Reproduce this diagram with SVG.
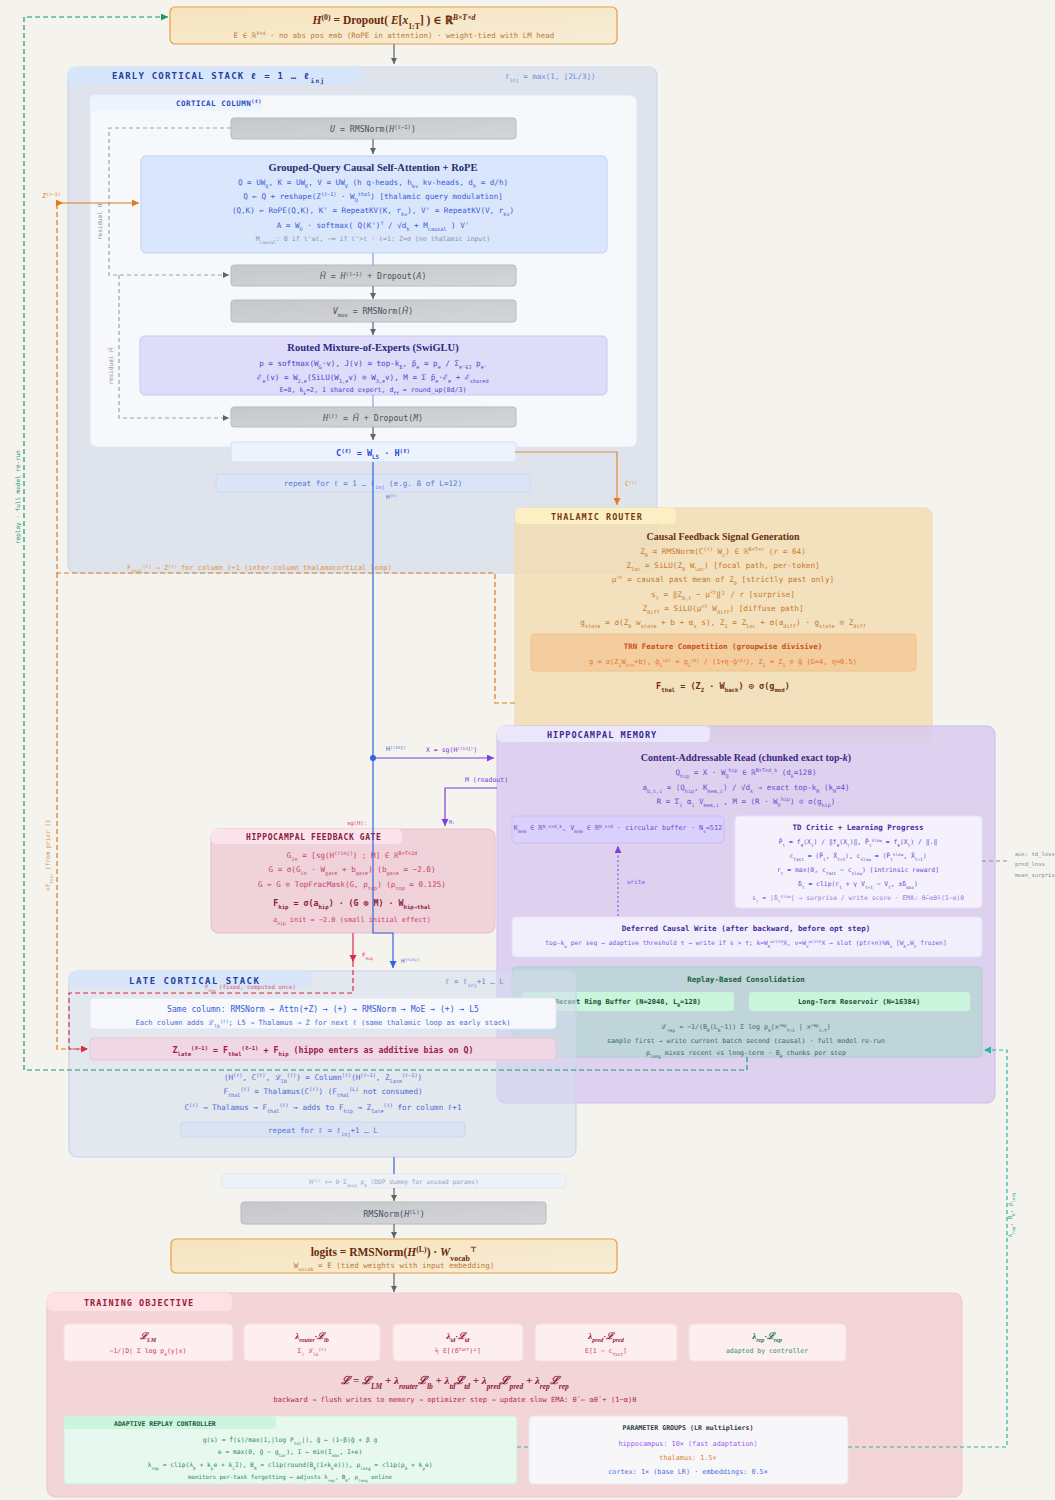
<svg xmlns="http://www.w3.org/2000/svg" width="1055" height="1500" viewBox="0 0 1055 1500">
<defs>
<style>
.m{font-family:"DejaVu Sans Mono","Liberation Mono",monospace}
.sf{font-family:"Liberation Serif","DejaVu Serif",serif;font-weight:bold}
.c{text-anchor:middle}
.bd{font-weight:bold}
.it{font-style:italic}
.hb{font-family:"DejaVu Sans",sans-serif;font-style:italic}
.b{baseline-shift:sub;font-size:68%}
.p{baseline-shift:super;font-size:68%}
.gbox{fill:url(#gg);stroke:#b8bbc0;stroke-width:1}
.gtx{fill:#4a5262;font-size:8.2px}
.ln{fill:none;stroke-width:1.2}
</style>
<linearGradient id="gg" x1="0" y1="0" x2="1" y2="1"><stop offset="0" stop-color="#c6c8cc"/><stop offset="1" stop-color="#d3d5d8"/></linearGradient>
<linearGradient id="go" x1="0" y1="0" x2="1" y2="1"><stop offset="0" stop-color="#f6e4bd"/><stop offset="1" stop-color="#f7ecd6"/></linearGradient>
<marker id="ag" markerWidth="7" markerHeight="7" refX="6" refY="3" orient="auto" markerUnits="userSpaceOnUse"><path d="M0,0 L6,3 L0,6 z" fill="#5b6374"/></marker>
<marker id="ao" markerWidth="8" markerHeight="8" refX="7" refY="3.5" orient="auto" markerUnits="userSpaceOnUse"><path d="M0,0 L7,3.5 L0,7 z" fill="#e07b1a"/></marker>
<marker id="ab" markerWidth="8" markerHeight="8" refX="7" refY="3.5" orient="auto" markerUnits="userSpaceOnUse"><path d="M0,0 L7,3.5 L0,7 z" fill="#2f66e0"/></marker>
<marker id="ap" markerWidth="8" markerHeight="8" refX="7" refY="3.5" orient="auto" markerUnits="userSpaceOnUse"><path d="M0,0 L7,3.5 L0,7 z" fill="#7b3fe0"/></marker>
<marker id="ar" markerWidth="8" markerHeight="8" refX="7" refY="3.5" orient="auto" markerUnits="userSpaceOnUse"><path d="M0,0 L7,3.5 L0,7 z" fill="#e0284a"/></marker>
<marker id="an" markerWidth="8" markerHeight="8" refX="7" refY="3.5" orient="auto" markerUnits="userSpaceOnUse"><path d="M0,0 L7,3.5 L0,7 z" fill="#1a9a6a"/></marker>
<marker id="at" markerWidth="8" markerHeight="8" refX="7" refY="3.5" orient="auto" markerUnits="userSpaceOnUse"><path d="M0,0 L7,3.5 L0,7 z" fill="#27b8a0"/></marker>
</defs>
<rect x="0" y="0" width="1055" height="1500" fill="#f4f3ee"/>

<!-- Early cortical stack -->
<g id="early-stack">
<rect x="68" y="67" width="589" height="506" rx="8" fill="#dfe4ec" stroke="#c9d8f2" stroke-width="1.2"/>
<rect x="68" y="67" width="295" height="17" rx="6" fill="#d7e6fb"/>
<text class="m bd" x="112" y="79" font-size="9" letter-spacing="1.2" fill="#2440a0">EARLY CORTICAL STACK ℓ = 1 … ℓ<tspan class="b">inj</tspan></text>
<text class="m" x="505" y="79" font-size="7.5" fill="#6a8ae0">ℓ<tspan class="b">inj</tspan> = max(1, ⌊2L/3⌋)</text>
</g>
<g id="cortical-column">
<rect x="90" y="95" width="547" height="352" rx="7" fill="#f7f8fb" stroke="#dfe7f5"/>
<rect x="90" y="95" width="172" height="16" rx="5" fill="#eef4fd"/>
<text class="m bd" x="176" y="106" font-size="7.5" letter-spacing="0.5" fill="#2a4ac0">CORTICAL COLUMN<tspan class="p">(ℓ)</tspan></text>
</g>
<g id="u-norm">
<rect class="gbox" x="231" y="118" width="285" height="21" rx="3"/>
<text class="m c gtx" x="373" y="132"><tspan class="it">U</tspan> = RMSNorm(<tspan class="it">H</tspan><tspan class="p">(ℓ−1)</tspan>)</text>
</g>
<g id="attention">
<rect x="141" y="156" width="466" height="97" rx="5" fill="#d9e6fb" stroke="#bed3f6"/>
<text class="sf c" x="373" y="171" font-size="10.5" fill="#1f2f70">Grouped-Query Causal Self-Attention + RoPE</text>
<g class="m c" font-size="7.6" fill="#3a5ad8">
<text x="373" y="185">Q = UW<tspan class="b">Q</tspan>, K = UW<tspan class="b">K</tspan>, V = UW<tspan class="b">V</tspan> (h q-heads, h<tspan class="b">kv</tspan> kv-heads, d<tspan class="b">h</tspan> = d/h)</text>
<text x="373" y="199">Q ← Q + reshape(Z<tspan class="p">(ℓ−1)</tspan> · W<tspan class="b">Q</tspan><tspan class="p">thal</tspan>) [thalamic query modulation]</text>
<text x="373" y="213">(Q,K) ← RoPE(Q,K), K' = RepeatKV(K, r<tspan class="b">kv</tspan>), V' = RepeatKV(V, r<tspan class="b">kv</tspan>)</text>
<text x="373" y="228">A = W<tspan class="b">O</tspan> · softmax( Q(K')<tspan class="p">⊤</tspan> / √d<tspan class="b">h</tspan> + M<tspan class="b">causal</tspan> ) V'</text>
</g>
<text class="m c" x="373" y="241" font-size="6.6" fill="#8a94a8">M<tspan class="b">causal</tspan>: 0 if t'≤t, −∞ if t'&gt;t · ℓ=1: Z=∅ (no thalamic input)</text>
</g>
<g id="h-bar">
<rect class="gbox" x="231" y="265" width="285" height="21" rx="3"/>
<text class="m c gtx" x="373" y="279"><tspan class="hb">H̄</tspan> = <tspan class="it">H</tspan><tspan class="p">(ℓ−1)</tspan> + Dropout(<tspan class="it">A</tspan>)</text>
</g>
<g id="v-moe">
<rect class="gbox" x="231" y="300" width="285" height="22" rx="3"/>
<text class="m c gtx" x="373" y="314"><tspan class="it">V</tspan><tspan class="b">moe</tspan> = RMSNorm(<tspan class="hb">H̄</tspan>)</text>
</g>
<g id="moe">
<rect x="140" y="336" width="467" height="59" rx="5" fill="#dedcf8" stroke="#c8c8f3"/>
<text class="sf c" x="373" y="351" font-size="10.5" fill="#2a2a80">Routed Mixture-of-Experts (SwiGLU)</text>
<g class="m c" font-size="7.6" fill="#4a44d0">
<text x="373" y="366">p = softmax(W<tspan class="b">G</tspan>·v), J(v) = top-k<tspan class="b">E</tspan>, p̃<tspan class="b">e</tspan> = p<tspan class="b">e</tspan> / Σ<tspan class="b">e'∈J</tspan> p<tspan class="b">e'</tspan></text>
<text x="373" y="380">ℰ<tspan class="b">e</tspan>(v) = W<tspan class="b">2,e</tspan>(SiLU(W<tspan class="b">1,e</tspan>v) ⊙ W<tspan class="b">3,e</tspan>v), M = Σ p̃<tspan class="b">e</tspan>·ℰ<tspan class="b">e</tspan> + ℰ<tspan class="b">shared</tspan></text>
<text x="373" y="392" font-size="6.6">E=8, k<tspan class="b">E</tspan>=2, 1 shared expert, d<tspan class="b">ff</tspan> = round_up(8d/3)</text>
</g>
</g>
<g id="h-out">
<rect class="gbox" x="231" y="407" width="285" height="20" rx="3"/>
<text class="m c gtx" x="373" y="421"><tspan class="it">H</tspan><tspan class="p">(ℓ)</tspan> = <tspan class="hb">H̄</tspan> + Dropout(<tspan class="it">M</tspan>)</text>
</g>
<g id="c-l5">
<rect x="231" y="442" width="285" height="20" rx="3" fill="#edf3fd" stroke="#cfe0f8"/>
<text class="m c bd" x="373" y="456" font-size="8.5" fill="#2a4ad8">C<tspan class="p">(ℓ)</tspan> = W<tspan class="b">L5</tspan> · H<tspan class="p">(ℓ)</tspan></text>
</g>
<g id="repeat-early">
<rect x="216" y="474" width="314" height="18" rx="3" fill="#dbe5f5" stroke="#cad9f1"/>
<text class="m c" x="373" y="486" font-size="7.6" fill="#5a78d8">repeat for ℓ = 1 … ℓ<tspan class="b">inj</tspan> (e.g. 8 of L=12)</text>
</g>

<!-- Thalamic router -->
<g id="thalamic-router">
<rect x="515" y="508" width="417" height="234" rx="8" fill="#f2dcb0" fill-opacity="0.8" stroke="#f0d9a8"/>
<rect x="515" y="508" width="161" height="16" rx="5" fill="#fcefc3"/>
<text class="m bd" x="551" y="520" font-size="8.5" letter-spacing="1" fill="#7a3a12">THALAMIC ROUTER</text>
<text class="sf c" x="723" y="539.5" font-size="10" fill="#6a3010">Causal Feedback Signal Generation</text>
<g class="m c" font-size="7.7" fill="#c8782a">
<text x="723" y="554">Z<tspan class="b">0</tspan> = RMSNorm(C<tspan class="p">(ℓ)</tspan> W<tspan class="b">c</tspan>) ∈ ℝ<tspan class="p">B×T×r</tspan> (r = 64)</text>
<text x="723" y="568">Z<tspan class="b">loc</tspan> = SiLU(Z<tspan class="b">0</tspan> W<tspan class="b">loc</tspan>) [focal path, per-token]</text>
<text x="723" y="582">μ<tspan class="p">&lt;t</tspan> = causal past mean of Z<tspan class="b">0</tspan> [strictly past only]</text>
<text x="723" y="597">s<tspan class="b">t</tspan> = ‖Z<tspan class="b">0,t</tspan> − μ<tspan class="p">&lt;t</tspan>‖² / r [surprise]</text>
<text x="723" y="611">Z<tspan class="b">diff</tspan> = SiLU(μ<tspan class="p">&lt;t</tspan> W<tspan class="b">diff</tspan>) [diffuse path]</text>
<text x="723" y="625">g<tspan class="b">state</tspan> = σ(Z<tspan class="b">0</tspan> w<tspan class="b">state</tspan> + b + α<tspan class="b">s</tspan> s), Z<tspan class="b">1</tspan> = Z<tspan class="b">loc</tspan> + σ(a<tspan class="b">diff</tspan>) · g<tspan class="b">state</tspan> ⊙ Z<tspan class="b">diff</tspan></text>
</g>
<rect x="531" y="634" width="385" height="37" rx="4" fill="#f4c594" fill-opacity="0.75" stroke="#f0c08c"/>
<text class="m c bd" x="723" y="649" font-size="7.5" fill="#c8501a">TRN Feature Competition (groupwise divisive)</text>
<text class="m c" x="723" y="664" font-size="7" fill="#e8702a">g = σ(Z<tspan class="b">1</tspan>W<tspan class="b">trn</tspan>+b), ĝ<tspan class="b">1</tspan><tspan class="p">(m)</tspan> = g<tspan class="b">1</tspan><tspan class="p">(m)</tspan> / (1+η·ḡ<tspan class="p">(m)</tspan>), Z<tspan class="b">2</tspan> = Z<tspan class="b">1</tspan> ⊙ ĝ (G=4, η=0.5)</text>
<text class="m c bd" x="723" y="689" font-size="8.5" fill="#6a3010">F<tspan class="b">thal</tspan> = (Z<tspan class="b">2</tspan> · W<tspan class="b">back</tspan>) ⊙ σ(g<tspan class="b">mod</tspan>)</text>
</g>

<!-- Hippocampal memory -->
<g id="hippocampal-memory">
<rect x="497" y="726" width="498" height="377" rx="8" fill="#d8caee" fill-opacity="0.85" stroke="#cdbdf0"/>
<rect x="497" y="726" width="213" height="16" rx="5" fill="#ece6fc"/>
<text class="m bd" x="547" y="738" font-size="8.5" letter-spacing="1" fill="#3a2a90">HIPPOCAMPAL MEMORY</text>
<text class="sf c" x="746" y="760.5" font-size="10" fill="#3a2a80">Content-Addressable Read (chunked exact top-<tspan class="it">k</tspan>)</text>
<g class="m c" font-size="7.5" fill="#6a4ad0">
<text x="746" y="775">Q<tspan class="b">hip</tspan> = X · W<tspan class="b">Q</tspan><tspan class="p">hip</tspan> ∈ ℝ<tspan class="p">B×T×d_k</tspan> (d<tspan class="b">k</tspan>=128)</text>
<text x="746" y="790">a<tspan class="b">b,t,i</tspan> = ⟨Q<tspan class="b">hip</tspan>, K<tspan class="b">mem,i</tspan>⟩ / √d<tspan class="b">k</tspan> → exact top-k<tspan class="b">H</tspan> (k<tspan class="b">H</tspan>=4)</text>
<text x="746" y="804">R = Σ<tspan class="b">i</tspan> α<tspan class="b">i</tspan> V<tspan class="b">mem,i</tspan> , M = (R · W<tspan class="b">O</tspan><tspan class="p">hip</tspan>) ⊙ σ(g<tspan class="b">hip</tspan>)</text>
</g>
</g>
<g id="memory-buffer">
<rect x="512" y="816" width="212" height="27" rx="4" fill="#d9d0fb" stroke="#c9bdf6"/>
<text class="m c" x="618" y="830" font-size="6.8" fill="#6a4ad0">K<tspan class="b">mem</tspan> ∈ ℝ<tspan class="p">N_s×d_k</tspan>, V<tspan class="b">mem</tspan> ∈ ℝ<tspan class="p">N_s×d</tspan> · circular buffer · N<tspan class="b">s</tspan>=512</text>
</g>
<g id="td-critic">
<rect x="735" y="816" width="247" height="92" rx="4" fill="#f4f1fc" stroke="#e6e0f8"/>
<text class="m c bd" x="858" y="830" font-size="7.5" fill="#4a2aa0">TD Critic + Learning Progress</text>
<g class="m c" font-size="6.4" fill="#6a4ad0">
<text x="858" y="844">P̂<tspan class="b">t</tspan> = f<tspan class="b">θ</tspan>(X<tspan class="b">t</tspan>) / ‖f<tspan class="b">θ</tspan>(X<tspan class="b">t</tspan>)‖, P̂<tspan class="b">t</tspan><tspan class="p">slow</tspan> = f<tspan class="b">θ̄</tspan>(X<tspan class="b">t</tspan>) / ‖.‖</text>
<text x="858" y="858">c<tspan class="b">fast</tspan> = ⟨P̂<tspan class="b">t</tspan>, X̂<tspan class="b">t+1</tspan>⟩, c<tspan class="b">slow</tspan> = ⟨P̂<tspan class="b">t</tspan><tspan class="p">slow</tspan>, X̂<tspan class="b">t+1</tspan>⟩</text>
<text x="858" y="872">r<tspan class="b">t</tspan> = max(0, c<tspan class="b">fast</tspan> − c<tspan class="b">slow</tspan>) [intrinsic reward]</text>
<text x="858" y="886">δ<tspan class="b">t</tspan> = clip(r<tspan class="b">t</tspan> + γ V<tspan class="b">t+1</tspan> − V<tspan class="b">t</tspan>, ±δ<tspan class="b">max</tspan>)</text>
<text x="858" y="900" fill="#9a7ae0">s<tspan class="b">t</tspan> = |δ<tspan class="b">t</tspan><tspan class="p">slow</tspan>| → surprise / write score · EMA: θ̄←αθ̄+(1−α)θ</text>
</g>
</g>
<g id="deferred-write">
<rect x="512" y="917" width="470" height="40" rx="4" fill="#f2effc" stroke="#e4def8"/>
<text class="m c bd" x="746" y="931" font-size="7.5" fill="#4a2aa0">Deferred Causal Write (after backward, before opt step)</text>
<text class="m c" x="746" y="945" font-size="6.3" fill="#7a5ae0">top-k<tspan class="b">w</tspan> per seq → adaptive threshold τ → write if s &gt; τ; k=W<tspan class="b">K</tspan><tspan class="p">write</tspan>X, v=W<tspan class="b">V</tspan><tspan class="p">write</tspan>X → slot (ptr+n)%N<tspan class="b">s</tspan> [W<tspan class="b">K</tspan>,W<tspan class="b">V</tspan> frozen]</text>
</g>
<g id="replay">
<rect x="512" y="967" width="470" height="90" rx="4" fill="#bfd5da" stroke="#b3cdd2"/>
<text class="m c bd" x="746" y="982" font-size="7.5" fill="#1a6040">Replay-Based Consolidation</text>
<rect x="522" y="992" width="212" height="19" rx="3" fill="#c9f5dc"/>
<text class="m c bd" x="628" y="1004" font-size="7" fill="#1a5030">Recent Ring Buffer (N=2048, L<tspan class="b">R</tspan>=128)</text>
<rect x="749" y="992" width="221" height="19" rx="3" fill="#c9f5dc"/>
<text class="m c bd" x="859" y="1004" font-size="7" fill="#1a5030">Long-Term Reservoir (N=16384)</text>
<g class="m c" font-size="6.6" fill="#3a6a5a">
<text x="746" y="1029">ℒ<tspan class="b">rep</tspan> = −1/(B<tspan class="b">R</tspan>(L<tspan class="b">R</tspan>−1)) Σ log p<tspan class="b">θ</tspan>(x<tspan class="p">rep</tspan><tspan class="b">t+1</tspan> | x<tspan class="p">rep</tspan><tspan class="b">1:t</tspan>)</text>
<text x="746" y="1043">sample first → write current batch second (causal) · full model re-run</text>
<text x="746" y="1055">ρ<tspan class="b">long</tspan> mixes recent vs long-term · B<tspan class="b">R</tspan> chunks per step</text>
</g>
</g>

<!-- Hippocampal feedback gate -->
<g id="feedback-gate">
<rect x="211" y="829" width="284" height="104" rx="7" fill="#f0d2da" stroke="#ebbccb"/>
<rect x="211" y="829" width="191" height="15" rx="5" fill="#fbe3eb"/>
<text class="m bd" x="246" y="840" font-size="8" letter-spacing="0.6" fill="#8a1a40">HIPPOCAMPAL FEEDBACK GATE</text>
<g class="m c" font-size="7.6" fill="#c8406a">
<text x="352" y="858">G<tspan class="b">in</tspan> = [sg(H<tspan class="p">(ℓinj)</tspan>) ; M] ∈ ℝ<tspan class="p">B×T×2d</tspan></text>
<text x="352" y="872">G = σ(G<tspan class="b">in</tspan> · W<tspan class="b">gate</tspan> + b<tspan class="b">gate</tspan>) (b<tspan class="b">gate</tspan> = −2.0)</text>
<text x="352" y="887">G ← G ⊙ TopFracMask(G, ρ<tspan class="b">top</tspan>) (ρ<tspan class="b">top</tspan> = 0.125)</text>
</g>
<text class="m c bd" x="352" y="906" font-size="8.3" fill="#8a1a40">F<tspan class="b">hip</tspan> = σ(a<tspan class="b">hip</tspan>) · (G ⊗ M) · W<tspan class="b">hip→thal</tspan></text>
<text class="m c" x="352" y="922" font-size="6.9" fill="#c8406a">a<tspan class="b">hip</tspan> init = −2.0 (small initial effect)</text>
</g>

<!-- Late cortical stack -->
<g id="late-stack">
<rect x="69" y="971" width="507" height="186" rx="8" fill="#d5ddee" fill-opacity="0.55" stroke="#c3d5f5" stroke-width="1.2"/>
<rect x="69" y="971" width="243" height="17" rx="6" fill="#d7e6fb" fill-opacity="0.9"/>
<text class="m bd" x="129" y="984" font-size="9" letter-spacing="1.5" fill="#2440a0">LATE CORTICAL STACK</text>
<text class="m" x="445" y="984" font-size="7.5" fill="#6a8ae0">ℓ = ℓ<tspan class="b">inj</tspan>+1 … L</text>
<g class="m c" font-size="7.6" fill="#4a6ad8">
<text x="323" y="1080">(H<tspan class="p">(ℓ)</tspan>, C<tspan class="p">(ℓ)</tspan>, ℒ<tspan class="b">lb</tspan><tspan class="p">(ℓ)</tspan>) = Column<tspan class="p">(ℓ)</tspan>(H<tspan class="p">(ℓ−1)</tspan>, Z<tspan class="b">late</tspan><tspan class="p">(ℓ−1)</tspan>)</text>
<text x="323" y="1094">F<tspan class="b">thal</tspan><tspan class="p">(ℓ)</tspan> = Thalamus(C<tspan class="p">(ℓ)</tspan>) (F<tspan class="b">thal</tspan><tspan class="p">(L)</tspan> not consumed)</text>
<text x="323" y="1110">C<tspan class="p">(ℓ)</tspan> → Thalamus → F<tspan class="b">thal</tspan><tspan class="p">(ℓ)</tspan> → adds to F<tspan class="b">hip</tspan> → Z<tspan class="b">late</tspan><tspan class="p">(ℓ)</tspan> for column ℓ+1</text>
</g>
</g>
<g id="same-column">
<rect x="90" y="998" width="466" height="31" rx="4" fill="#f7f8fb" stroke="#e0e7f4"/>
<text class="m c" x="323" y="1012" font-size="8.1" fill="#3a5ad8">Same column: RMSNorm → Attn(+Z) → (+) → RMSNorm → MoE → (+) → L5</text>
<text class="m c" x="323" y="1025" font-size="7.1" fill="#4a6ad8">Each column adds ℒ<tspan class="b">lb</tspan><tspan class="p">(ℓ)</tspan>; L5 → Thalamus → Z for next ℓ (same thalamic loop as early stack)</text>
</g>
<g id="z-late">
<rect x="90" y="1038" width="466" height="22" rx="4" fill="#efd8e4" stroke="#ebc3d5"/>
<text class="m c bd" x="323" y="1053" font-size="8.3" fill="#a01a4a">Z<tspan class="b">late</tspan><tspan class="p">(ℓ−1)</tspan> = F<tspan class="b">thal</tspan><tspan class="p">(ℓ−1)</tspan> + F<tspan class="b">hip</tspan> (hippo enters as additive bias on Q)</text>
</g>
<g id="repeat-late">
<rect x="181" y="1122" width="284" height="15" rx="3" fill="#d9e3f4" stroke="#c9d8f1"/>
<text class="m c" x="323" y="1133" font-size="7.6" fill="#5a78d8">repeat for ℓ = ℓ<tspan class="b">inj</tspan>+1 … L</text>
</g>

<!-- Output path -->
<g id="embed">
<rect x="170" y="7" width="447" height="37" rx="5" fill="url(#go)" stroke="#e8a040" stroke-width="1.2"/>
<text class="sf c" x="394" y="24" font-size="11.5" fill="#6a2a0c"><tspan class="it">H</tspan><tspan class="p">(0)</tspan> = Dropout( <tspan class="it">E</tspan>[<tspan class="it">x</tspan><tspan class="b">1:T</tspan>] ) ∈ ℝ<tspan class="p it">B×T×d</tspan></text>
<text class="m c" x="394" y="38" font-size="7.5" fill="#c07a35">E ∈ ℝ<tspan class="p">V×d</tspan> · no abs pos emb (RoPE in attention) · weight-tied with LM head</text>
</g>
<g id="ddp">
<rect x="222" y="1174" width="344" height="14" rx="3" fill="#eef2f8" stroke="#e2e8f2"/>
<text class="m c" x="394" y="1184" font-size="6.2" fill="#9aa4b8">H<tspan class="p">(L)</tspan> += 0·Σ<tspan class="b">dead</tspan> p<tspan class="b">0</tspan> (DDP dummy for unused params)</text>
</g>
<g id="final-norm">
<rect class="gbox" x="241" y="1202" width="305" height="22" rx="3"/>
<text class="m c" x="394" y="1216.5" font-size="8.5" fill="#4a5262">RMSNorm(<tspan class="it">H</tspan><tspan class="p">(L)</tspan>)</text>
</g>
<g id="logits">
<rect x="171" y="1239" width="446" height="34" rx="5" fill="url(#go)" stroke="#e8a040" stroke-width="1.2"/>
<text class="sf c" x="394" y="1256" font-size="11.5" fill="#6a2a0c">logits = RMSNorm(<tspan class="it">H</tspan><tspan class="p">(L)</tspan>) · <tspan class="it">W</tspan><tspan class="b">vocab</tspan><tspan class="p">⊤</tspan></text>
<text class="m c" x="394" y="1268" font-size="7.5" fill="#c07a35">W<tspan class="b">vocab</tspan> = E (tied weights with input embedding)</text>
</g>

<!-- Training objective -->
<g id="training-objective">
<rect x="47" y="1293" width="915" height="204" rx="8" fill="#f3d5d7" stroke="#f0c6cb"/>
<rect x="47" y="1293" width="185" height="18" rx="6" fill="#fde1e4"/>
<text class="m bd" x="84" y="1306" font-size="8.5" letter-spacing="1" fill="#9a1a3a">TRAINING OBJECTIVE</text>
<g fill="#fdeef0" stroke="#f7dde1">
<rect x="64" y="1324" width="169" height="37" rx="4"/>
<rect x="244" y="1324" width="136" height="37" rx="4"/>
<rect x="393" y="1324" width="130" height="37" rx="4"/>
<rect x="535" y="1324" width="142" height="37" rx="4"/>
<rect x="689" y="1324" width="157" height="37" rx="4"/>
</g>
<g class="sf c it" font-size="9" fill="#9a1a3a" font-weight="normal">
<text x="148" y="1339">ℒ<tspan class="b">LM</tspan></text>
<text x="312" y="1339">λ<tspan class="b">router</tspan>·ℒ<tspan class="b">lb</tspan></text>
<text x="458" y="1339">λ<tspan class="b">td</tspan>·ℒ<tspan class="b">td</tspan></text>
<text x="606" y="1339">λ<tspan class="b">pred</tspan>·ℒ<tspan class="b">pred</tspan></text>
<text x="767" y="1339" fill="#1a7a50">λ<tspan class="b">rep</tspan>·ℒ<tspan class="b">rep</tspan></text>
</g>
<g class="m c" font-size="6.5" fill="#c8406a">
<text x="148" y="1353">−1/|D| Σ log p<tspan class="b">θ</tspan>(y|x)</text>
<text x="312" y="1353">Σ<tspan class="b">ℓ</tspan> ℒ<tspan class="b">lb</tspan><tspan class="p">(ℓ)</tspan></text>
<text x="458" y="1353">½ E[(δ<tspan class="p">fast</tspan>)²]</text>
<text x="606" y="1353">E[1 − c<tspan class="b">fast</tspan>]</text>
<text x="767" y="1353" fill="#2a9a6a">adapted by controller</text>
</g>
<text class="sf c it" x="455" y="1384" font-size="11" fill="#8a1a3a" font-weight="normal">ℒ = ℒ<tspan class="b">LM</tspan> + λ<tspan class="b">router</tspan>ℒ<tspan class="b">lb</tspan> + λ<tspan class="b">td</tspan>ℒ<tspan class="b">td</tspan> + λ<tspan class="b">pred</tspan>ℒ<tspan class="b">pred</tspan> + λ<tspan class="b">rep</tspan>ℒ<tspan class="b">rep</tspan></text>
<text class="m c" x="455" y="1402" font-size="7.1" fill="#b0284a">backward → flush writes to memory → optimizer step → update slow EMA: θ̄ ← αθ̄ + (1−α)θ</text>
</g>
<g id="replay-controller">
<rect x="64" y="1416" width="453" height="68" rx="4" fill="#e7f9ef" stroke="#cfeedd"/>
<rect x="64" y="1416" width="212" height="13" rx="4" fill="#cdf5de"/>
<text class="m bd" x="114" y="1426" font-size="6.5" fill="#1a5a3a">ADAPTIVE REPLAY CONTROLLER</text>
<g class="m c" font-size="6.3" fill="#2a8a5a">
<text x="290" y="1442">g(s) = f̂(s)/max(1,|log P<tspan class="b">tot</tspan>|), ĝ ← (1−β)ĝ + β g</text>
<text x="290" y="1454">e = max(0, ĝ − g<tspan class="b">tar</tspan>), I ← min(I<tspan class="b">max</tspan>, I+e)</text>
<text x="290" y="1467">λ<tspan class="b">rep</tspan> = clip(λ<tspan class="b">0</tspan> + k<tspan class="b">p</tspan>e + k<tspan class="b">i</tspan>I), B<tspan class="b">R</tspan> = clip(round(B<tspan class="b">0</tspan>(1+k<tspan class="b">b</tspan>e))), ρ<tspan class="b">long</tspan> = clip(ρ<tspan class="b">0</tspan> + k<tspan class="b">ρ</tspan>e)</text>
<text x="290" y="1479" font-size="5.8">monitors per-task forgetting → adjusts λ<tspan class="b">rep</tspan>, B<tspan class="b">R</tspan>, ρ<tspan class="b">long</tspan> online</text>
</g>
</g>
<g id="param-groups">
<rect x="529" y="1416" width="319" height="68" rx="4" fill="#f7f7fa" stroke="#e6e6ee"/>
<text class="m c bd" x="688" y="1430" font-size="6.6" fill="#333a44">PARAMETER GROUPS (LR multipliers)</text>
<g class="m c" font-size="6.8">
<text x="688" y="1446" fill="#9a5af0">hippocampus: 10× (fast adaptation)</text>
<text x="688" y="1460" fill="#e0802a">thalamus: 1.5×</text>
<text x="688" y="1474" fill="#4a6ae0">cortex: 1× (base LR) · embeddings: 0.5×</text>
</g>
</g>

<!-- Connectors -->
<g id="connectors">
<g class="ln" stroke="#5b6374">
<path d="M394,44 V64" marker-end="url(#ag)"/>
<path d="M373,139 V154" marker-end="url(#ag)"/>
<path d="M373,286 V299" marker-end="url(#ag)"/>
<path d="M373,322 V335" marker-end="url(#ag)"/>
<path d="M373,427 V440" marker-end="url(#ag)"/>
<path d="M394,1188 V1201" marker-end="url(#ag)"/>
<path d="M394,1224 V1238" marker-end="url(#ag)"/>
<path d="M394,1273 V1292" marker-end="url(#ag)"/>
</g>
<g class="ln" stroke="#7fa3ee">
<path d="M373,253 V265"/>
<path d="M373,395 V407"/>
</g>
<g class="ln" stroke="#9aa3b0" stroke-width="1" stroke-dasharray="4 3">
<path d="M231,128 H109 V275 H229" marker-end="url(#ag)"/>
<path d="M119,275 V418 H229" marker-end="url(#ag)"/>
</g>
<text class="m c" transform="rotate(-90 102 222)" x="102" y="222" font-size="6" fill="#8a93a3">residual H</text>
<text class="m c" transform="rotate(-90 113 366)" x="113" y="366" font-size="6" fill="#8a93a3">residual <tspan class="hb">H̄</tspan></text>
<!-- orange -->
<path class="ln" d="M515,452 H617 V505" stroke="#e08a30" stroke-width="1.5" marker-end="url(#ao)"/>
<text class="m" x="625" y="486" font-size="6.5" fill="#e08a30">C<tspan class="p">(ℓ)</tspan></text>
<path class="ln" d="M515,703 H495 V573 H57 V203 H63" stroke="#e07b1a" stroke-dasharray="5 3" marker-end="url(#ao)"/>
<path class="ln" d="M63,203 H139" stroke="#e07b1a" stroke-width="1.5" marker-end="url(#ao)"/>
<text class="m" x="42" y="198" font-size="7" fill="#e07b1a">Z<tspan class="p">(ℓ−1)</tspan></text>
<text class="m" x="127" y="570" font-size="7" fill="#e09040">F<tspan class="b">thal</tspan><tspan class="p">(ℓ)</tspan> → Z<tspan class="p">(ℓ)</tspan> for column ℓ+1 (inter-column thalamocortical loop)</text>
<path class="ln" d="M57,573 V1049 H86" stroke="#e07b1a" stroke-dasharray="5 3"/>
<text class="m c" transform="rotate(-90 50 855)" x="50" y="855" font-size="6" fill="#e09040">+F<tspan class="b">thal</tspan> (from prior ℓ)</text>
<!-- red -->
<path class="ln" d="M353,933 V962" stroke="#e0284a" stroke-width="1.5" marker-end="url(#ar)"/>
<path class="ln" d="M353,962 V993 H69 V1049 H88" stroke="#e0284a" stroke-dasharray="5 3" marker-end="url(#ar)"/>
<text class="m" x="362" y="957" font-size="6" fill="#e0284a">F<tspan class="b">hip</tspan></text>
<text class="m" x="205" y="989" font-size="5.8" fill="#e05070">F<tspan class="b">hip</tspan> (fixed, computed once)</text>
<text class="m" x="347" y="825" font-size="5.5" fill="#d04060">sg(H):</text>
<!-- blue -->
<path class="ln" d="M373,462 V933 H393 V968" stroke="#2f66e0" stroke-width="1.5" marker-end="url(#ab)"/>
<path class="ln" d="M394,1157 V1174" stroke="#2f66e0" stroke-width="1.5"/>
<circle cx="373" cy="758" r="3" fill="#2f66e0"/>
<text class="m" x="386" y="499" font-size="6" fill="#4a6ae0">H<tspan class="p">(ℓ)</tspan></text>
<text class="m" x="386" y="751" font-size="6.5" fill="#4a6ae0">H<tspan class="p">(ℓinj)</tspan></text>
<text class="m" x="401" y="963" font-size="6" fill="#4a6ae0">H<tspan class="p">(ℓinj)</tspan></text>
<!-- purple -->
<path class="ln" d="M373,758 H494" stroke="#7b3fe0" stroke-width="1.5" marker-end="url(#ap)"/>
<text class="m" x="426" y="752" font-size="6.5" fill="#7b3fe0">X = sg(H<tspan class="p">(ℓinj)</tspan>)</text>
<path class="ln" d="M497,788 H445 V826" stroke="#7b3fe0" stroke-width="1.5" marker-end="url(#ap)"/>
<text class="m" x="465" y="782" font-size="6.5" fill="#7b3fe0">M (readout)</text>
<text class="m" x="449" y="824" font-size="5" fill="#7b3fe0">M:</text>
<path class="ln" d="M618,916 V846" stroke="#8a55e8" stroke-dasharray="2 2.5" marker-end="url(#ap)"/>
<text class="m" x="627" y="884" font-size="6" fill="#8a55e8">write</text>
<!-- aux -->
<path class="ln" d="M982,861 H1010" stroke="#8a8f9a" stroke-width="1" stroke-dasharray="4 3"/>
<g class="m" font-size="5.5" fill="#8a8f9a">
<text x="1015" y="856">aux: td_loss</text>
<text x="1015" y="866">pred_loss</text>
<text x="1015" y="877">mean_surprise</text>
</g>
<!-- green replay re-run -->
<path class="ln" d="M747,1057 V1070 H24 V17 H168" stroke="#1a9a6a" stroke-dasharray="5 3" marker-end="url(#an)"/>
<text class="m c" transform="rotate(-90 20 497)" x="20" y="497" font-size="6" fill="#1a9a6a">replay · full model re-run</text>
<!-- teal controller -->
<path class="ln" d="M517,1447 H529" stroke="#27b8a0" stroke-dasharray="4 3"/>
<path class="ln" d="M848,1447 H1007 V1050 H984" stroke="#27b8a0" stroke-dasharray="4 3" marker-end="url(#at)"/>
<text class="m c" transform="rotate(-90 1012 1215)" x="1012" y="1215" font-size="6" fill="#27a890">λ<tspan class="b">rep</tspan>, B<tspan class="b">R</tspan>, ρ<tspan class="b">long</tspan></text>
</g>
</svg>
